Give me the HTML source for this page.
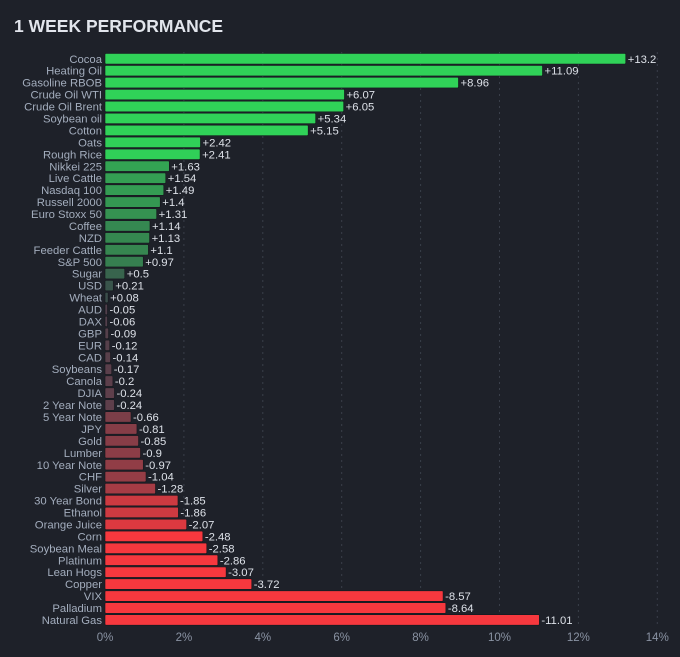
<!DOCTYPE html>
<html><head><meta charset="utf-8"><style>
body{margin:0;background:#1e2129;}
svg{display:block;font-family:"Liberation Sans",sans-serif;}
</style></head><body>
<svg id="c" width="680" height="657">
<rect width="680" height="657" fill="#1e2129"/>
<text x="14" y="32" font-size="17.5" font-weight="bold" fill="#e2e5ec">1 WEEK PERFORMANCE</text>
<g id="grid"></g><g id="bars"></g><g id="ticks"></g>
</svg>
<script>
const categories=["Cocoa","Heating Oil","Gasoline RBOB","Crude Oil WTI","Crude Oil Brent","Soybean oil","Cotton","Oats","Rough Rice","Nikkei 225","Live Cattle","Nasdaq 100","Russell 2000","Euro Stoxx 50","Coffee","NZD","Feeder Cattle","S&P 500","Sugar","USD","Wheat","AUD","DAX","GBP","EUR","CAD","Soybeans","Canola","DJIA","2 Year Note","5 Year Note","JPY","Gold","Lumber","10 Year Note","CHF","Silver","30 Year Bond","Ethanol","Orange Juice","Corn","Soybean Meal","Platinum","Lean Hogs","Copper","VIX","Palladium","Natural Gas"];
const values=[13.2,11.09,8.96,6.07,6.05,5.34,5.15,2.42,2.41,1.63,1.54,1.49,1.4,1.31,1.14,1.13,1.1,0.97,0.5,0.21,0.08,-0.05,-0.06,-0.09,-0.12,-0.14,-0.17,-0.2,-0.24,-0.24,-0.66,-0.81,-0.85,-0.9,-0.97,-1.04,-1.28,-1.85,-1.86,-2.07,-2.48,-2.58,-2.86,-3.07,-3.72,-8.57,-8.64,-11.01];
const tickValues=[0,2,4,6,8,10,12,14];
const NS="http://www.w3.org/2000/svg";
const x0=105,pxPer=39.45,y0=53.5,pitch=11.94,bh=10.5;
const xs=v=>x0+v*pxPer, ys=i=>y0+i*pitch;
function col(v){const t=Math.min(Math.abs(v)/2.45,1);const n=v>=0?[58,72,74]:[78,64,76];const f=v>=0?[48,210,88]:[246,56,62];return `rgb(${n.map((c,k)=>Math.round(c+(f[k]-c)*t)).join(',')})`;}
function mk(tag,a,p){const e=document.createElementNS(NS,tag);for(const k in a)e.setAttribute(k,a[k]);p.appendChild(e);return e;}
const G=document.getElementById('grid'),B=document.getElementById('bars'),T=document.getElementById('ticks');
tickValues.forEach(t=>{if(t>0){const l=mk('line',{x1:xs(t),x2:xs(t),y1:52,y2:628,stroke:'#3a3f4a','stroke-dasharray':'2,4'},G);

}
const tx=mk('text',{x:xs(t),y:641,'font-size':11.5,fill:'#8a93a3','text-anchor':'middle'},T);tx.textContent=t+'%';

});
categories.forEach((c,i)=>{const v=values[i],y=ys(i),w=Math.max(Math.abs(v)*pxPer,2.5);
const r=mk('rect',{x:x0,y:y,width:w,height:bh,fill:col(v),rx:1,stroke:'#15171d','stroke-width':0.6},B);


const lb=mk('text',{x:x0-3,y:y+bh-1.2,'font-size':11.3,fill:'#a3adbd','text-anchor':'end'},B);lb.textContent=c;


const vl=mk('text',{x:x0+w+2,y:y+bh-1.2,'font-size':11.3,fill:'#dde1e8'},B);vl.textContent=(v>0?'+':'')+v;

});
</script>
</body></html>
